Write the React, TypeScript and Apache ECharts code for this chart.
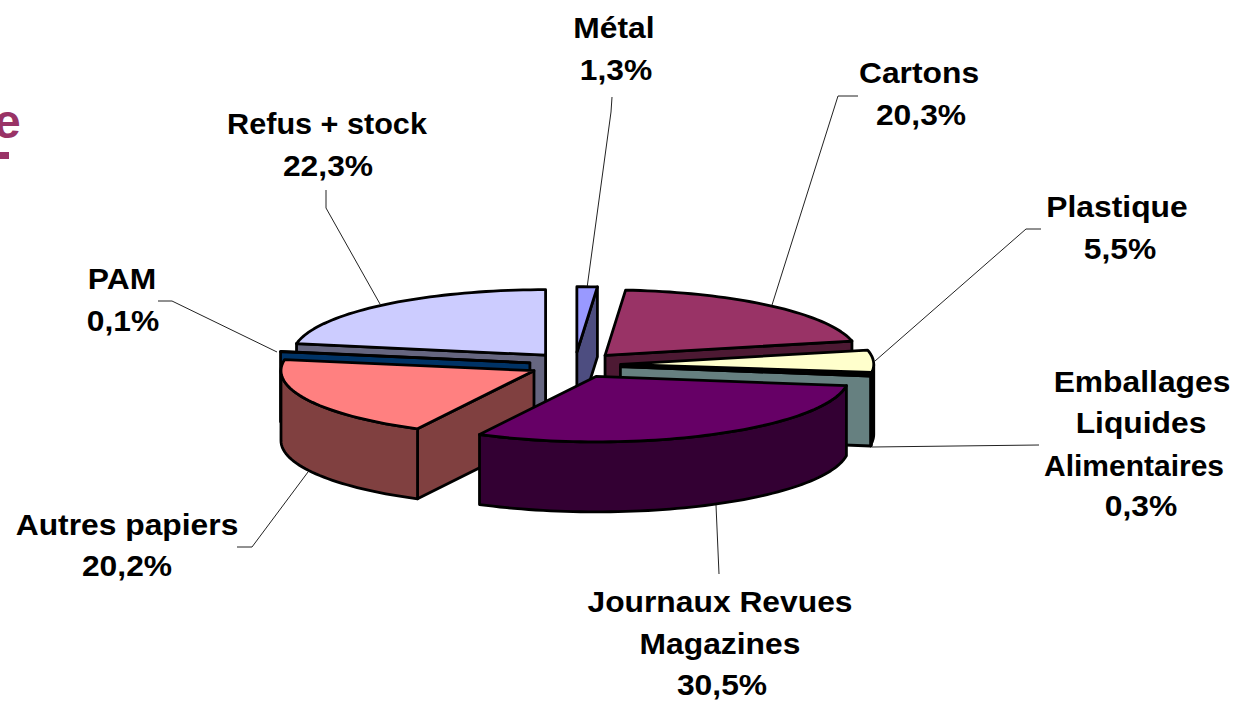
import React, { useEffect, useRef } from "react";
import * as echarts from "echarts";

const categories = ["Métal", "Cartons", "Plastique", "Emballages Liquides Alimentaires", "Journaux Revues Magazines", "Autres papiers", "PAM", "Refus + stock"];
const values = [1.3, 20.3, 5.5, 0.3, 30.5, 20.2, 0.1, 22.3];
const topColors = ["#9999ff", "#993366", "#ffffcc", "#ccffff", "#660066", "#ff8080", "#006699", "#ccccff"];
const sideColors = ["#4d4d80", "#4d1933", "#808066", "#668080", "#330033", "#804040", "#003366", "#666680"];
const drawOrder = [7, 0, 1, 2, 6, 3, 5, 4];

const CX = 575, CY = 365, RX = 253, RY = 65.5, EX = 45.8, EY = 12.8, DEPTH = 70;

const total = values.reduce((a, b) => a + b, 0);
const angles: [number, number][] = [];
{
  let acc = 0;
  values.forEach((v) => {
    angles.push([(acc / total) * 2 * Math.PI, ((acc + v) / total) * 2 * Math.PI]);
    acc += v;
  });
}

const labelLines: { text: string; x: number; y: number; s?: number }[] = [
  { text: "Métal", x: 614, y: 28 },
  { text: "1,3%", x: 616, y: 70 },
  { text: "Cartons", x: 919, y: 73 },
  { text: "20,3%", x: 921, y: 115 },
  { text: "Plastique", x: 1117, y: 207 },
  { text: "5,5%", x: 1120, y: 249 },
  { text: "Emballages", x: 1142, y: 382 },
  { text: "Liquides", x: 1141, y: 423 },
  { text: "Alimentaires", x: 1134, y: 465, s: 1.0 },
  { text: "0,3%", x: 1141, y: 506 },
  { text: "Journaux Revues", x: 720, y: 602 },
  { text: "Magazines", x: 720, y: 644 },
  { text: "30,5%", x: 722, y: 685 },
  { text: "Autres papiers", x: 127, y: 525 },
  { text: "20,2%", x: 127, y: 566 },
  { text: "PAM", x: 122, y: 279 },
  { text: "0,1%", x: 123, y: 321 },
  { text: "Refus + stock", x: 327, y: 124, s: 1.02 },
  { text: "22,3%", x: 328, y: 166 },
];

const leaders: number[][][] = [
  [[612, 97], [611, 112], [587, 288]],
  [[858, 96], [838, 96], [772, 305]],
  [[1041, 229], [1026, 229], [875, 361]],
  [[1039, 445], [872, 447]],
  [[716, 505], [719, 574]],
  [[237, 547], [252, 547], [308, 472]],
  [[158, 301], [172, 301], [277, 352]],
  [[326, 190], [326, 208], [380, 304]],
];

function renderSlice(_: any, api: any) {
  const idx = api.value(0) as number;
  const [a1, a2] = angles[idx];
  const mid = (a1 + a2) / 2;
  const ax = CX + EX * Math.sin(mid);
  const ay = CY - EY * Math.cos(mid);
  const pt = (t: number, d = 0) => [ax + RX * Math.sin(t), ay - RY * Math.cos(t) + d];
  const arc = (s: number, e: number, d = 0) => {
    const n = Math.max(2, Math.ceil(Math.abs(e - s) / 0.03));
    const out: number[][] = [];
    for (let i = 0; i <= n; i++) out.push(pt(s + ((e - s) * i) / n, d));
    return out;
  };
  const apex = [ax, ay];
  const apexB = [ax, ay + DEPTH];
  const style = (fill: string) => ({ fill, stroke: "#000", lineWidth: 2.8, lineJoin: "round" });
  const children: any[] = [];
  const side = sideColors[idx];
  const radial = (t: number) => ({
    type: "polygon",
    shape: { points: [apex, pt(t), pt(t, DEPTH), apexB] },
    style: style(side),
  });
  if (Math.sin(a1) < -1e-6) children.push(radial(a1));
  if (Math.sin(a2) > 1e-6) children.push(radial(a2));
  const rs = Math.max(a1, Math.PI / 2);
  const re = Math.min(a2, (3 * Math.PI) / 2);
  if (re > rs) {
    children.push({
      type: "polygon",
      shape: { points: [...arc(rs, re), ...arc(re, rs, DEPTH)] },
      style: style(side),
    });
  }
  children.push({
    type: "polygon",
    shape: { points: [apex, ...arc(a1, a2)] },
    style: style(topColors[idx]),
  });
  return { type: "group", children };
}

export default function App() {
  const ref = useRef<HTMLDivElement>(null);
  useEffect(() => {
    document.body.style.margin = "0";
    const chart = echarts.init(ref.current!, undefined, { renderer: "svg" });
    const textEls = labelLines.map((l) => ({
      type: "text",
      x: l.x,
      y: l.y,
      scaleX: l.s ?? 1.06,
      style: {
        text: l.text,
        fill: "#000",
        font: 'bold 30px "Liberation Sans", Arial, sans-serif',
        align: "center",
        verticalAlign: "middle",
      },
    }));
    const lineEls = leaders.map((points) => ({
      type: "polyline",
      shape: { points },
      style: { fill: "none", stroke: "#222", lineWidth: 1 },
    }));
    chart.setOption({
      animation: false,
      backgroundColor: "#fff",
      series: [
        {
          type: "custom",
          coordinateSystem: "none",
          clip: false,
          silent: true,
          renderItem: renderSlice,
          data: drawOrder.map((i) => ({ name: categories[i], value: [i, values[i]] })),
        },
      ],
      graphic: [
        ...lineEls,
        ...textEls,
        {
          type: "text",
          x: -6,
          y: 121,
          style: {
            text: "e",
            fill: "#993366",
            font: 'bold 48px "Liberation Sans", Arial, sans-serif',
            align: "left",
            verticalAlign: "middle",
          },
        },
        { type: "rect", shape: { x: 0, y: 152, width: 9, height: 7 }, style: { fill: "#993366" } },
      ],
    });
    return () => chart.dispose();
  }, []);
  return <div ref={ref} style={{ position: "absolute", left: 0, top: 0, width: 1244, height: 701 }} />;
}
